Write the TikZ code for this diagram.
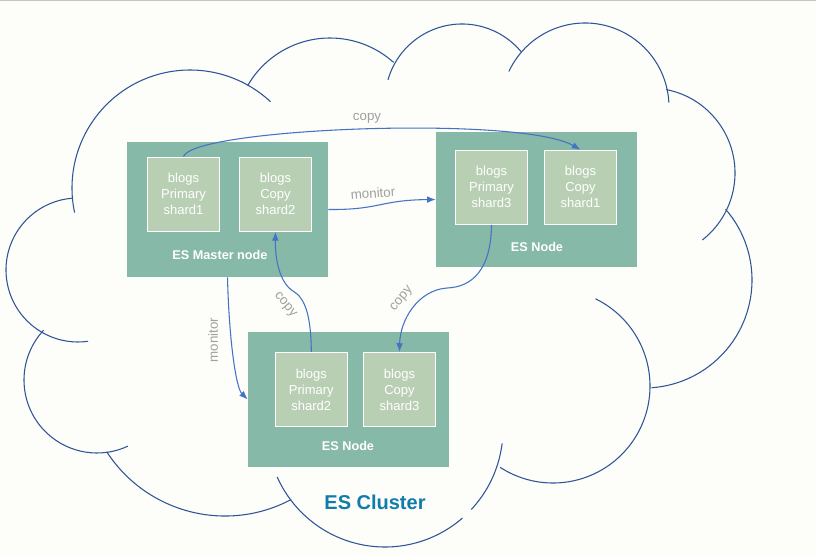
\documentclass[tikz,border=0pt]{standalone}
\usepackage{fontspec}
\setmainfont{Liberation Sans}
\usetikzlibrary{arrows.meta}

\definecolor{paper}{RGB}{253,253,249}
\definecolor{nodegreen}{RGB}{134,185,168}
\definecolor{shardgreen}{RGB}{185,207,180}
\definecolor{linkblue}{RGB}{68,114,196}
\definecolor{cloudblue}{RGB}{47,85,151}
\definecolor{labelgray}{RGB}{160,160,160}
\definecolor{clustertext}{RGB}{16,124,172}

\tikzset{
  esnode/.style={fill=nodegreen,minimum width=150.75pt,minimum height=101.25pt,inner sep=0pt},
  shard/.style={fill=shardgreen,draw=white,line width=0.9pt,minimum width=54pt,minimum height=55.5pt,
    inner sep=0pt,align=center,text=white,font=\fontsize{9.75}{12}\selectfont},
  nodetitle/.style={text=white,font=\bfseries\fontsize{9.5}{11}\selectfont},
  link/.style={draw=linkblue,line width=0.8pt,->},
  linklabel/.style={text=labelgray,font=\fontsize{10}{12}\selectfont,inner sep=1pt},
  cloud/.style={draw=cloudblue,line width=0.8pt}
}

\begin{document}
\begin{tikzpicture}[x=0.75pt,y=0.75pt,>={Latex[length=6.5pt,width=5pt]}]
    \useasboundingbox (0,0) rectangle (816,-557);
    \fill[paper] (0,0) rectangle (816,-557);
    \draw[gray!45,line width=1.2pt] (0,-0.6)--(816,-0.6);
    % cloud outline, one arc per bump
    \draw[cloud] (190,-188) ++(192:118) arc[start angle=192,end angle=47,radius=118];
    \draw[cloud] (330,-133) ++(150:95) arc[start angle=150,end angle=48,radius=95];
    \draw[cloud] (462,-101) ++(164:77) arc[start angle=164,end angle=40,radius=77];
    \draw[cloud] (585,-107) ++(155:84) arc[start angle=155,end angle=3,radius=84];
    \draw[cloud] (650,-173) ++(79:85) arc[start angle=79,end angle=-52,radius=85];
    \draw[cloud] (644,-280) ++(41:108) arc[start angle=41,end angle=-86,radius=108];
    \draw[cloud] (553,-386) ++(64:97) arc[start angle=64,end angle=-123,radius=97];
    \draw[cloud] (385,-429) ++(204:118) arc[start angle=204,end angle=311,radius=118];
    \draw[cloud] (385,-429) ++(317:118) arc[start angle=317,end angle=353,radius=118];
    \draw[cloud] (225,-375) ++(213:141) arc[start angle=213,end angle=298,radius=141];
    \draw[cloud] (97,-380) ++(137:73) arc[start angle=137,end angle=295,radius=73];
    \draw[cloud] (78,-270) ++(94:72) arc[start angle=94,end angle=278,radius=72];

    % ES nodes
    \node[esnode] (master) at (227.5,-209.5) {};
    \node[esnode] (rnode) at (536.5,-199.5) {};
    \node[esnode] (bnode) at (348.5,-399.5) {};
    \node[nodetitle] (mtitle) at (220,-255) {ES Master node};
    \node[nodetitle] (rtitle) at (537,-247) {ES Node};
    \node[nodetitle] (btitle) at (348,-446) {ES Node};

    % shards
    \node[shard] (pshard1) at (183.5,-194.3) {blogs\\Primary\\shard1};
    \node[shard] (cshard2) at (275.5,-194.3) {blogs\\Copy\\shard2};
    \node[shard] (pshard3) at (491.5,-187.3) {blogs\\Primary\\shard3};
    \node[shard] (cshard1) at (580.5,-187.3) {blogs\\Copy\\shard1};
    \node[shard] (pshard2) at (311.3,-389.5) {blogs\\Primary\\shard2};
    \node[shard] (cshard3) at (399.5,-389.5) {blogs\\Copy\\shard3};

    % copy and monitor links
    \draw[link] (pshard1.north) .. controls (192,-128) and (520,-115) .. (cshard1.north);
    \node[linklabel] (copyA) at (367,-118) {copy};
    \draw[link] (master.east) .. controls (380,-210) and (380,-200) .. (rnode.west);
    \node[linklabel,rotate=4] (monA) at (373,-193) {monitor};
    \draw[link] (pshard2.north) .. controls (311,-315) and (305,-298) .. (293,-291)
      .. controls (280,-283) and (275,-260) .. (cshard2.south);
    \node[linklabel,rotate=-50] (copyB) at (285,-305) {copy};
    \draw[link] (pshard3.south) .. controls (491,-270) and (472,-287) .. (447,-288)
      .. controls (418,-290) and (400,-320) .. (cshard3.north);
    \node[linklabel,rotate=50] (copyC) at (402,-299) {copy};
    \draw[link] (master.south) .. controls (229,-340) and (236,-388) .. (bnode.west);
    \node[linklabel,rotate=90] (monB) at (213,-340) {monitor};

    \node[text=clustertext,font=\bfseries\fontsize{15}{18}\selectfont] (cluster) at (375,-502) {ES Cluster};
\end{tikzpicture}
\end{document}
